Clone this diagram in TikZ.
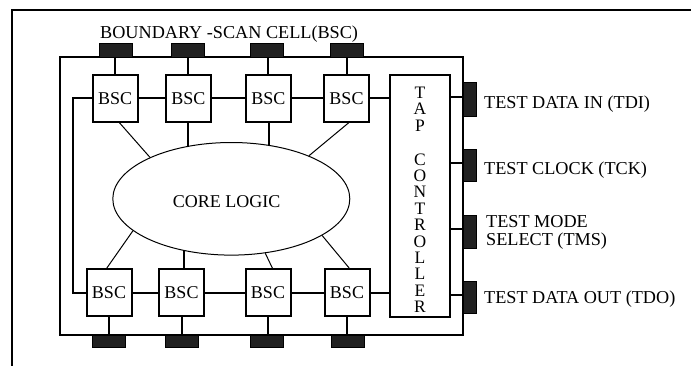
\documentclass[tikz,border=0pt]{standalone}
\usepackage{fontspec}
\setmainfont{Liberation Serif}
\usetikzlibrary{shapes.geometric}
\begin{document}
\begin{tikzpicture}[x=1pt,y=-1pt,
  thick line/.style={line width=2pt},
  thin line/.style={line width=1pt},
  bsc/.style={draw,line width=2pt,minimum width=45pt,minimum height=47pt,inner sep=0pt,font=\fontsize{18}{18}\selectfont},
  pin/.style={draw,line width=1pt,fill=black!87,inner sep=0pt},
  lbl/.style={anchor=base west,inner sep=0pt,font=\fontsize{18.2}{17.5}\selectfont,align=left}]
\useasboundingbox (0,0) rectangle (691,365);
% outer frame
\coordinate (fbl) at (12,366);
\coordinate (ftl) at (12,10);
\coordinate (ftr) at (692,10);
\draw[thick line] (fbl) -- (ftl) -- (ftr);
% chip body
\node[draw,thick line,minimum width=403pt,minimum height=278pt,inner sep=0pt] (chip) at (261.5,196) {};
% TAP controller
\node[draw,thick line,minimum width=60pt,minimum height=242pt,inner sep=0pt] (tap) at (420,196) {};
\node[inner sep=0pt,align=center,font=\fontsize{17.5}{16.4}\selectfont,anchor=north] (taptext) at (420,86.7)
  {T\\A\\P\\\strut\\C\\O\\N\\T\\R\\O\\L\\L\\E\\R};
% core
\node[draw,thin line,ellipse,minimum width=237pt,minimum height=112.6pt,inner sep=0pt] (core) at (231.3,198.8) {};
\node[font=\fontsize{18}{18}\selectfont,inner sep=0pt] (coretext) at (226.7,201.7) {CORE LOGIC};
% title
\node[lbl] (title) at (100,38.3) {BOUNDARY -SCAN CELL(BSC)};
% top BSCs
\node[bsc] (t1) at (115.2,98.3) {BSC};
\node[bsc] (t2) at (188.3,98.3) {BSC};
\node[bsc] (t3) at (268.3,98.3) {BSC};
\node[bsc] (t4) at (346.5,98.3) {BSC};
% bottom BSCs
\node[bsc] (b1) at (109,292.5) {BSC};
\node[bsc] (b2) at (181.5,292.5) {BSC};
\node[bsc] (b3) at (268,292.5) {BSC};
\node[bsc] (b4) at (347,292.5) {BSC};
% top pins
\node[pin,minimum width=33pt,minimum height=14pt] (tp1) at (115.5,50) {};
\node[pin,minimum width=33pt,minimum height=14pt] (tp2) at (188,50) {};
\node[pin,minimum width=33pt,minimum height=14pt] (tp3) at (267,50) {};
\node[pin,minimum width=33pt,minimum height=14pt] (tp4) at (347,50) {};
% bottom pins
\node[pin,minimum width=33pt,minimum height=11.5pt] (bp1) at (109.3,341.7) {};
\node[pin,minimum width=33pt,minimum height=11.5pt] (bp2) at (181.5,341.7) {};
\node[pin,minimum width=33pt,minimum height=11.5pt] (bp3) at (267.3,341.7) {};
\node[pin,minimum width=33pt,minimum height=11.5pt] (bp4) at (347.5,341.7) {};
% right pins
\node[pin,minimum width=13pt,minimum height=34pt] (tdi) at (470,99.7) {};
\node[pin,minimum width=13pt,minimum height=32pt] (tck) at (470,165.8) {};
\node[pin,minimum width=13pt,minimum height=33pt] (tms) at (470,231.5) {};
\node[pin,minimum width=13pt,minimum height=32pt] (tdo) at (470,297.3) {};
% right labels
\node[lbl] (ltdi) at (484,108.3) {TEST DATA IN (TDI)};
\node[lbl] (ltck) at (484,174) {TEST CLOCK (TCK)};
\node[lbl] (ltms) at (486,245) {TEST MODE\\SELECT (TMS)};
\node[lbl] (ltdo) at (484,303.3) {TEST DATA OUT (TDO)};
% chains
\coordinate (ltop) at (73,98.3);
\coordinate (lbot) at (73,292.5);
\draw[thick line] (t1.west) -- (ltop) -- (lbot) -- (b1.west);
\draw[thick line] (t1) -- (t2);
\draw[thick line] (t2) -- (t3);
\draw[thick line] (t3) -- (t4);
\draw[thick line] (t4.east) -- (t4.east -| tap.west);
\draw[thick line] (b1) -- (b2);
\draw[thick line] (b2) -- (b3);
\draw[thick line] (b3) -- (b4);
\draw[thick line] (b4.east) -- (b4.east -| tap.west);
% pin stubs
\foreach \b/\p in {t1/tp1,t2/tp2,t3/tp3,t4/tp4}
  \draw[thick line] (\b.north) -- (\b.north |- \p.south);
\foreach \b/\p in {b1/bp1,b2/bp2,b3/bp3,b4/bp4}
  \draw[thick line] (\b.south) -- (\b.south |- \p.north);
% tap to right pins
\foreach \p in {tdi,tck,tms,tdo}
  \draw[thick line] ([yshift=2.5pt]\p.west) -- ([yshift=2.5pt]\p.west -| tap.east);
% core connectors
\draw[thin line] (t1.-80) -- (core.153);
\draw[thick line] (core.129) -- (core.129 |- t2.south);
\draw[thick line] (core.55) -- (core.55 |- t3.south);
\draw[thin line] (t4.-85) -- (core.29);
\draw[thin line] (core.198) -- (b1.95);
\draw[thick line] (core.228) -- (core.228 |- b2.north);
\draw[thin line] (core.302) -- (b3.80);
\draw[thin line] (core.338.5) -- (b4.85);
\end{tikzpicture}
\end{document}
